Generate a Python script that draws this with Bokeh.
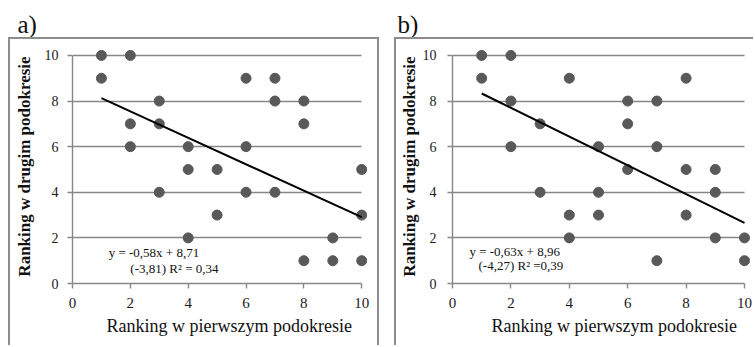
from bokeh.plotting import figure
from bokeh.models import Label, FixedTicker, Title, Spacer
from bokeh.layouts import row, column
from bokeh.embed import file_html
from bokeh.resources import INLINE

# ---- data ----
xa = [1, 1, 2, 6, 7, 3, 7, 8, 2, 3, 8, 2, 4, 6, 4, 5, 10, 3, 6, 7, 5, 10, 4, 9, 8, 9, 10]
ya = [10, 9, 10, 9, 9, 8, 8, 8, 7, 7, 7, 6, 6, 6, 5, 5, 5, 4, 4, 4, 3, 3, 2, 2, 1, 1, 1]
xb = [1, 2, 1, 4, 8, 2, 6, 7, 3, 6, 2, 5, 7, 6, 8, 9, 3, 5, 9, 4, 5, 8, 4, 9, 10, 7, 10]
yb = [10, 10, 9, 9, 9, 8, 8, 8, 7, 7, 6, 6, 6, 5, 5, 5, 4, 4, 4, 3, 3, 3, 2, 2, 2, 1, 1]
slopes = [-0.58, -0.63]
intercepts = [8.71, 8.96]
trend_x = [1, 10]
eq_a = ["y = -0,58x + 8,71", "(-3,81)  R\u00b2 = 0,34"]
eq_b = ["y = -0,63x + 8,96", "(-4,27) R\u00b2 =0,39"]
x_ticks = [0, 2, 4, 6, 8, 10]
y_ticks = [0, 2, 4, 6, 8, 10]
panel_labels = ["a)", "b)"]
x_title = "Ranking w pierwszym podokresie"
y_title = "Ranking w drugim podokresie"

SERIF = "Liberation Serif"
GRID = "#878787"
FRAME = "#8c8c8c"
DOT = "#595959"
HEAD_H = 37
BODY_H = 308
Y_END = 10.26


def head(label, width, lx):
    h = figure(width=width, height=HEAD_H, x_range=(0, width), y_range=(0, HEAD_H),
               output_backend="svg", toolbar_location=None, title_location=None,
               x_axis_location=None, y_axis_location=None,
               min_border=0, min_border_left=0, min_border_right=0,
               min_border_top=0, min_border_bottom=0, frame_align=False)
    h.grid.visible = False
    h.outline_line_color = None
    h.add_layout(Label(x=lx, y=13, text=label, text_font=SERIF,
                       text_font_size="25px", text_baseline="alphabetic",
                       text_color="#111111"))
    return h


def body(xs, ys, slope, intercept, eqs, eq_pos, width, bl, br, x_end,
         ylab_standoff, ytick_standoff, title_offset, borders):
    p = figure(width=width, height=BODY_H, x_range=(0, x_end), y_range=(0, Y_END),
               output_backend="svg", toolbar_location=None,
               min_border_left=bl, min_border_right=br,
               min_border_top=10, min_border_bottom=64, frame_align=False)
    p.outline_line_color = None
    p.xgrid.visible = False
    p.ygrid.grid_line_color = GRID
    p.ygrid.grid_line_width = 1.4
    p.ygrid.bounds = (0, Y_END)
    try:
        p.ygrid.cross_bounds = (0, 10)
    except Exception:
        pass

    for ax, ticks in ((p.xaxis, x_ticks), (p.yaxis, y_ticks)):
        ax.ticker = FixedTicker(ticks=ticks)
        ax.bounds = (0, 10)
        ax.axis_line_color = GRID
        ax.axis_line_width = 1.4
        ax.major_tick_line_color = GRID
        ax.major_tick_line_width = 1.4
        ax.minor_tick_line_color = None
        ax.major_tick_in = 0
        ax.major_tick_out = 5
        ax.major_label_text_font = SERIF
        ax.major_label_text_color = "#1a1a1a"

    p.xaxis.major_label_text_font_size = "15px"
    p.yaxis.major_label_text_font_size = "14px"
    p.xaxis.major_label_standoff = 9
    p.add_layout(Title(text=x_title, align="left", offset=title_offset,
                       text_font=SERIF, text_font_size="18px",
                       text_font_style="normal", text_color="#111111",
                       standoff=7), "below")

    p.yaxis.major_label_standoff = ytick_standoff
    p.yaxis.axis_label = y_title
    p.yaxis.axis_label_text_font = SERIF
    p.yaxis.axis_label_text_font_size = "17px"
    p.yaxis.axis_label_text_font_style = "bold"
    p.yaxis.axis_label_text_color = "#111111"
    p.yaxis.axis_label_standoff = ylab_standoff

    p.scatter(xs, ys, size=10, color=DOT, line_color=DOT)
    p.line(trend_x, [slope * x + intercept for x in trend_x],
           line_color="black", line_width=2)

    for txt, (ex, ey) in zip(eqs, eq_pos):
        p.add_layout(Label(x=ex, y=ey, text=txt, text_font=SERIF,
                           text_font_size="13px", text_align="left",
                           text_baseline="middle", text_color="#111111"))

    line = "2px solid " + FRAME
    p.styles = {("border-" + side): line for side in borders}
    return p


ha = head(panel_labels[0], 375, 9)
ba = body(xa, ya, slopes[0], intercepts[0], eq_a, [(1.25, 1.36), (2.0, 0.66)],
          371, 62, 14, 10.2, 8, 9, 34, ("top", "left", "right"))
hb = head(panel_labels[1], 361, 3)
bb = body(xb, yb, slopes[1], intercepts[1], eq_b, [(0.58, 1.4), (0.89, 0.79)],
          359, 55, 4, 10.24, 1, 11, 39, ("top", "left"))

layout = row(Spacer(width=8, height=10), column(ha, ba), Spacer(width=11, height=10),
             column(hb, bb))
open("out.html", "w").write(file_html(layout, INLINE))
